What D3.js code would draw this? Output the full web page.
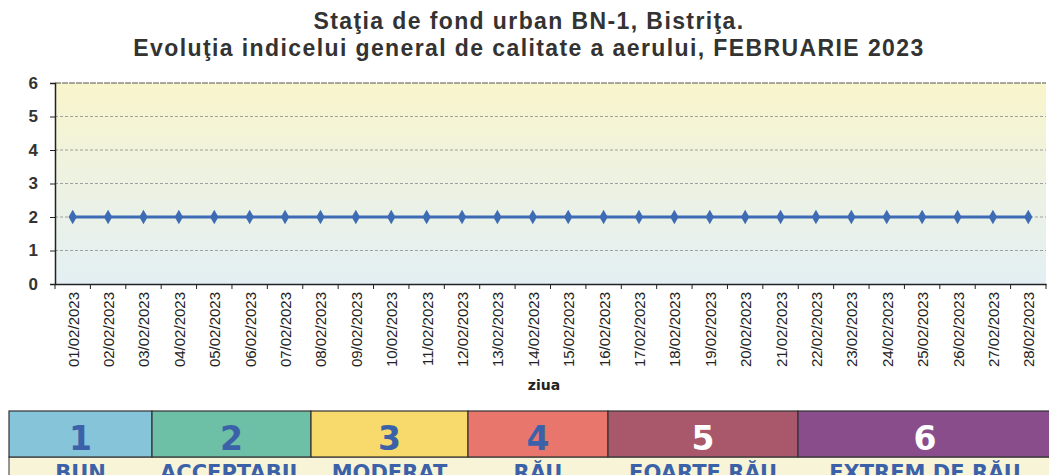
<!DOCTYPE html>
<html><head><meta charset="utf-8">
<script src="https://cdn.jsdelivr.net/npm/d3@7"></script>
<style>body{margin:0;background:#fff;}svg{display:block;}</style>
</head><body>
<svg id="c" width="1049" height="475"></svg>
<script>
const days = ["01/02/2023","02/02/2023","03/02/2023","04/02/2023","05/02/2023","06/02/2023","07/02/2023","08/02/2023","09/02/2023","10/02/2023","11/02/2023","12/02/2023","13/02/2023","14/02/2023","15/02/2023","16/02/2023","17/02/2023","18/02/2023","19/02/2023","20/02/2023","21/02/2023","22/02/2023","23/02/2023","24/02/2023","25/02/2023","26/02/2023","27/02/2023","28/02/2023"];
const indexValues = [2,2,2,2,2,2,2,2,2,2,2,2,2,2,2,2,2,2,2,2,2,2,2,2,2,2,2,2];
const yTicks = [0,1,2,3,4,5,6];
const legendNumbers = ["1","2","3","4","5","6"];
const legendLabels = ["BUN","ACCEPTABIL","MODERAT","RĂU","FOARTE RĂU","EXTREM DE RĂU"];
const legendColors = ["#86c4da","#6dbfa6","#f7d96c","#e9766c","#a8586a","#8a4d8c"];
const legendTextColors = ["#3b62a8","#3b62a8","#3b62a8","#3b62a8","#ffffff","#ffffff"];
const legendEdges = [9,152,311,468,608,798,1052];

const svg = d3.select("#c");
const L = 55, R = 1046, T = 83, B = 284;
const x = d3.scaleBand().domain(days).range([L, R]);
const y = d3.scaleLinear().domain([0,6]).range([B, T]);

const defs = svg.append("defs");
const g = defs.append("linearGradient").attr("id","bg").attr("x1",0).attr("y1",0).attr("x2",0).attr("y2",1);
g.append("stop").attr("offset","0%").attr("stop-color","#f9f5cb");
g.append("stop").attr("offset","45%").attr("stop-color","#eef2e0");
g.append("stop").attr("offset","100%").attr("stop-color","#e3eff3");
svg.append("rect").attr("x",L).attr("y",T).attr("width",R-L).attr("height",B-T).attr("fill","url(#bg)");

// title
const title = svg.append("text").attr("text-anchor","middle").attr("font-family","Liberation Sans, Arial, sans-serif").attr("font-weight","bold").attr("font-size",23).attr("letter-spacing","1.4px").attr("fill","#333");
title.append("tspan").attr("x",529).attr("y",29).text("Staţia de fond urban BN-1, Bistriţa.");
title.append("tspan").attr("x",529).attr("y",56).text("Evoluţia indicelui general de calitate a aerului, FEBRUARIE 2023");

// gridlines
svg.append("g").selectAll("line").data(yTicks.filter(d=>d>0)).join("line")
  .attr("x1",L).attr("x2",R).attr("y1",d=>y(d)).attr("y2",d=>y(d))
  .attr("stroke",d=>d===6?"#555":"#a0a0a0").attr("stroke-width",1)
  .attr("stroke-dasharray",d=>d===6?"6,1":"3,2");

// y axis
const ya = svg.append("g").attr("transform",`translate(${L},0)`).call(d3.axisLeft(y).tickValues(yTicks).tickSize(5).tickFormat(d3.format("d")));
ya.select(".domain").attr("stroke","#222").attr("stroke-width",1.5);
ya.selectAll("line").attr("stroke","#222");
ya.selectAll("text").attr("font-family","Liberation Sans, Arial, sans-serif").attr("font-weight","bold").attr("font-size",17).attr("fill","#333").attr("x",-17);

// x axis
const xa = svg.append("g").attr("transform",`translate(0,${B})`).call(d3.axisBottom(x).tickSize(0));
xa.select(".domain").attr("stroke","#222").attr("stroke-width",1.5);
xa.selectAll(".tick text").attr("font-family","Liberation Sans, Arial, sans-serif").attr("font-size",15).attr("fill","#222")
  .attr("transform","rotate(-90)").attr("text-anchor","end").attr("x",-8).attr("y",0).attr("dy","0.4em");
// boundary tick marks
svg.append("g").selectAll("line").data(days).join("line")
  .attr("x1",d=>x(d)).attr("x2",d=>x(d)).attr("y1",B).attr("y2",B+5).attr("stroke","#222");
svg.append("line").attr("x1",R).attr("x2",R).attr("y1",B).attr("y2",B+5).attr("stroke","#222");

svg.append("text").attr("x",544).attr("y",390).attr("text-anchor","middle").attr("font-family","DejaVu Sans, sans-serif").attr("font-weight","bold").attr("font-size",14).attr("fill","#222").text("ziua");

// line
const cx = d => x(d) + x.bandwidth()/2;
svg.append("path").datum(indexValues).attr("fill","none").attr("stroke","#3d6cb5").attr("stroke-width",3)
  .attr("d", d3.line().x((d,i)=>cx(days[i])).y(d=>y(d)));
svg.append("g").selectAll("path").data(indexValues).join("path")
  .attr("transform",(d,i)=>`translate(${cx(days[i])},${y(d)})`)
  .attr("d", d3.symbol(d3.symbolDiamond, 60)()).attr("fill","#3d6cb5");

// legend table
const lg = svg.append("g");
lg.append("rect").attr("x",legendEdges[0]).attr("y",457).attr("width",1049-legendEdges[0]+5).attr("height",30).attr("fill","#f8f4d8").attr("stroke","#333");
legendNumbers.forEach((n,i)=>{
  const x0 = legendEdges[i], x1 = legendEdges[i+1];
  lg.append("rect").attr("x",x0).attr("y",411).attr("width",x1-x0).attr("height",46).attr("fill",legendColors[i]).attr("stroke","#333").attr("stroke-width",1.2);
  lg.append("text").attr("x",(x0+x1)/2).attr("y",450).attr("text-anchor","middle").attr("font-family","DejaVu Sans, sans-serif").attr("font-weight","bold").attr("font-size",33).attr("fill",legendTextColors[i]).text(n);
  lg.append("text").attr("x",(x0+x1)/2).attr("y",480).attr("text-anchor","middle").attr("font-family","DejaVu Sans, sans-serif").attr("font-weight","bold").attr("font-size",21).attr("fill","#3b62a8").text(legendLabels[i]);
});
</script>
</body></html>
